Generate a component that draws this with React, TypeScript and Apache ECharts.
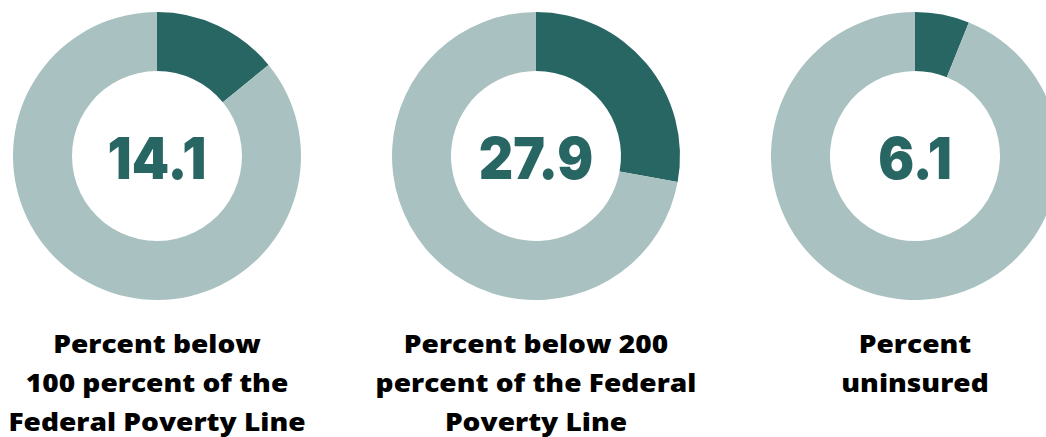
import React, { useEffect, useRef } from "react";
import * as echarts from "echarts";

const values = [14.1, 27.9, 6.1];
const labels = [
  ["Percent below", "100 percent of the", "Federal Poverty Line"],
  ["Percent below 200", "percent of the Federal", "Poverty Line"],
  ["Percent", "uninsured"],
];
const centersX = [157, 536, 915];

const DARK = "#286663";
const LIGHT = "#A9C2C1";

export default function App() {
  const ref = useRef<HTMLDivElement>(null);
  useEffect(() => {
    if (!ref.current) return;
    const chart = echarts.init(ref.current, undefined, { renderer: "svg" });
    const series = values.map((v, i) => ({
      type: "pie",
      center: [centersX[i], 156],
      radius: [85, 144],
      startAngle: 90,
      clockwise: true,
      silent: true,
      label: { show: false },
      labelLine: { show: false },
      itemStyle: { borderWidth: 0 },
      data: [
        { value: v, name: "value", itemStyle: { color: DARK } },
        { value: 100 - v, name: "rest", itemStyle: { color: LIGHT } },
      ],
    }));
    const graphics: any[] = [];
    values.forEach((v, i) => {
      graphics.push({
        type: "text",
        x: centersX[i],
        y: 158,
        scaleX: 0.92,
        style: {
          text: String(v),
          fill: DARK,
          font: "900 58px Inter",
          textAlign: "center",
          textVerticalAlign: "middle",
        },
      });
      graphics.push({
        type: "text",
        x: centersX[i],
        y: 324,
        scaleX: 1.17,
        style: {
          text: labels[i].join("\n"),
          fill: "#000",
          font: "800 24px 'Open Sans'",
          lineHeight: 39,
          textAlign: "center",
          textVerticalAlign: "top",
        },
      });
    });
    chart.setOption({
      animation: false,
      series,
      graphic: graphics,
    });
    return () => chart.dispose();
  }, []);
  return (
    <div
      ref={ref}
      style={{ position: "absolute", left: 0, top: 0, width: 1046, height: 437 }}
    />
  );
}
